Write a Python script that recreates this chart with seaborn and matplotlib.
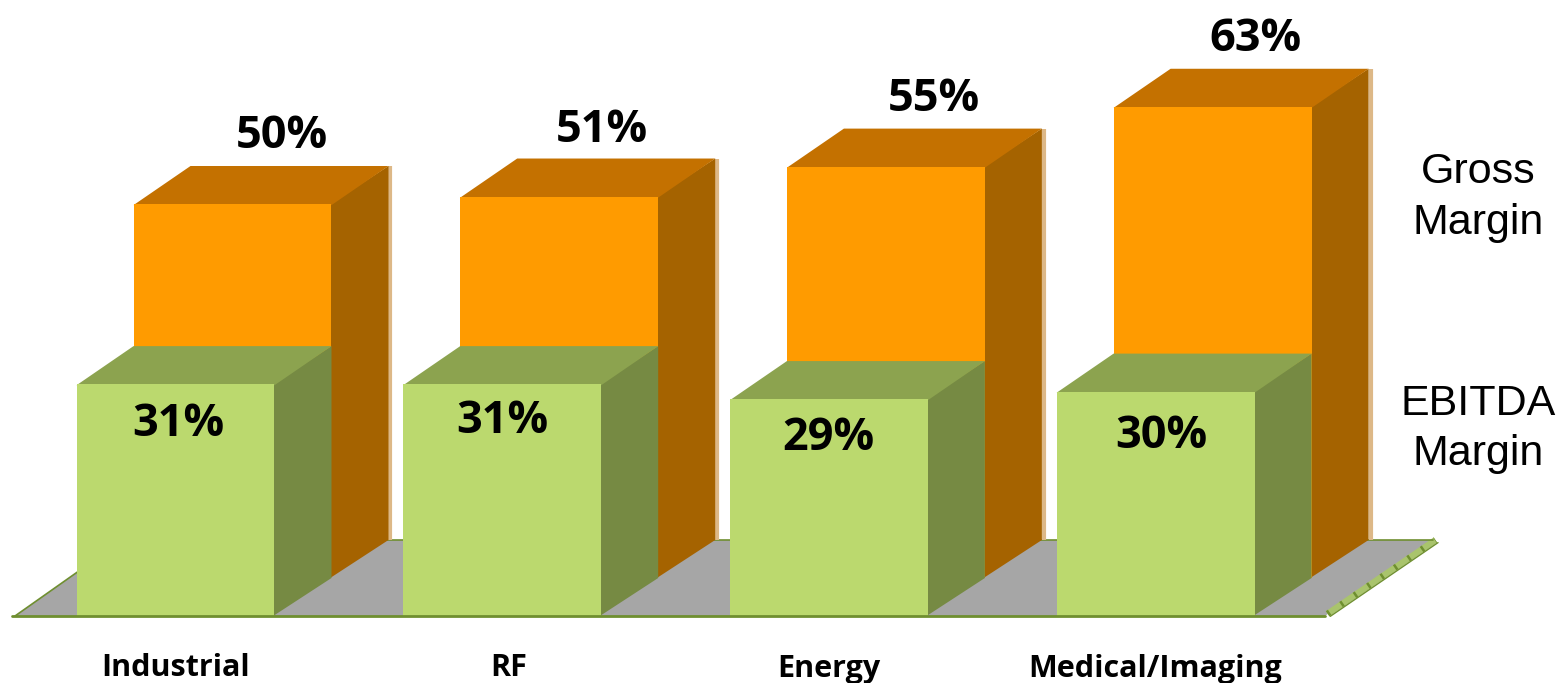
import matplotlib
matplotlib.use("Agg")
import matplotlib.pyplot as plt
from matplotlib.transforms import ScaledTranslation
import seaborn as sns

categories = ["Industrial", "RF", "Energy", "Medical/Imaging"]
gross_margin = [50, 51, 55, 63]
ebitda_margin = [31, 31, 29, 30]

# layout, in pixels of the 1562x683 figure
W, H = 1562, 683
PX_PER_CAT = 326.7
PX_PER_PCT = 7.48
FIRST_CENTER = 175.5
BASE_Y = 616
DEPTH_X_PX, DEPTH_Y_PX = 57, 38
BAR_WIDTH = 0.606
gross_label_shift = [(49, 30), (43, 28), (48, 29), (43, 29)]
ebitda_label_shift = [(3, 40), (0, 37), (0, 39), (6, 45)]
tick_label_shift = [0, 6, 0, 0]

depth_x = DEPTH_X_PX / PX_PER_CAT
depth_y = DEPTH_Y_PX / PX_PER_PCT
xlim = (-FIRST_CENTER / PX_PER_CAT, (W - FIRST_CENTER) / PX_PER_CAT)

LABEL_FONT = "Open Sans"
SIDE_FONT = "Liberation Sans"
FLOOR_EDGE = "#6F8F30"

sns.set_theme(style="white")
fig = plt.figure(figsize=(W / 100, H / 100), dpi=100)


def make_axes(shift_x, shift_y, z):
    bottom = H - BASE_Y + shift_y
    a = fig.add_axes([shift_x / W, bottom / H, 1, (H - bottom) / H], zorder=z)
    a.patch.set_alpha(0)
    return a


def finish_axes(a):
    a.set_xlim(xlim)
    a.set_ylim(0, a.get_position().height * H / PX_PER_PCT)
    sns.despine(ax=a, left=True, bottom=True, top=True, right=True)
    a.set_yticks([])
    a.set_xlabel("")
    a.set_ylabel("")


def draw_bars(a, values, front, top, side, edge=None):
    sns.barplot(x=categories, y=values, color=front, saturation=1,
                width=BAR_WIDTH, ax=a, linewidth=0, zorder=3)
    eps_x, eps_y = 0.004, 0.15
    for i, v in enumerate(values):
        l, r = i - BAR_WIDTH / 2, i + BAR_WIDTH / 2
        a.fill([r - eps_x, r + depth_x, r + depth_x, r - eps_x],
               [0, depth_y, v + depth_y, v],
               color=side, lw=0, zorder=2)
        a.fill([l, r, r + depth_x, l + depth_x],
               [v - eps_y, v - eps_y, v + depth_y, v + depth_y],
               color=top, lw=0, zorder=2)
        if edge:
            a.plot([r + depth_x + 0.006] * 2, [depth_y, v + depth_y],
                   color=edge, lw=3, solid_capstyle="butt", zorder=1)


# floor
ax_floor = make_axes(0, 0, 1)
floor_l = xlim[0] + 15 / PX_PER_CAT
floor_r = xlim[0] + 1325 / PX_PER_CAT
floor_dx, floor_dy = 0.33, 2 * depth_y
ax_floor.fill([floor_l, floor_r, floor_r + floor_dx, floor_l + floor_dx],
              [0, 0, floor_dy, floor_dy], color="#A6A6A6", lw=0)
strip_x = [floor_r + 0.008, floor_r + floor_dx + 0.008]
strip_y = [0.3, floor_dy]
ax_floor.plot(strip_x, strip_y, color="#A9C46C", lw=4.5,
              solid_capstyle="butt", clip_on=False)
ax_floor.plot(strip_x, strip_y, color=FLOOR_EDGE, lw=4.5, ls=(0, (0.4, 2.2)), clip_on=False)
ax_floor.plot([s + 0.008 for s in strip_x], [s - 0.35 for s in strip_y],
              color=FLOOR_EDGE, lw=1.0, clip_on=False)
ax_floor.plot([floor_l, floor_l + floor_dx], [0, floor_dy], color=FLOOR_EDGE, lw=1.2)
ax_floor.plot([floor_l + floor_dx, floor_r + floor_dx], [floor_dy, floor_dy],
              color=FLOOR_EDGE, lw=1.2)
finish_axes(ax_floor)
ax_floor.set_xticks([])

# gross margin, on the back plane
ax_back = make_axes(DEPTH_X_PX, DEPTH_Y_PX, 2)
draw_bars(ax_back, gross_margin, "#FF9B00", "#C47100", "#A56300", edge="#DDB887")
finish_axes(ax_back)
ax_back.set_xticks([])
for i, v in enumerate(gross_margin):
    sx, sy = gross_label_shift[i]
    ax_back.annotate(f"{v}%", (i, v + depth_y), xytext=(sx * 0.72, sy * 0.72),
                     textcoords="offset points", ha="center", va="center",
                     fontsize=32.5, fontweight="bold", family=LABEL_FONT,
                     color="black", annotation_clip=False, zorder=6)

# EBITDA margin, on the front plane
ax_front = make_axes(0, 0, 3)
draw_bars(ax_front, ebitda_margin, "#BBD96E", "#8CA34F", "#768A43")
finish_axes(ax_front)
ax_front.plot([floor_l - 0.01, floor_r], [0, 0], color=FLOOR_EDGE, lw=2,
              clip_on=False, zorder=5)
ax_front.set_xlim(xlim)
for i, v in enumerate(ebitda_margin):
    sx, sy = ebitda_label_shift[i]
    ax_front.annotate(f"{v}%", (i, v), xytext=(sx * 0.72, -sy * 0.72),
                      textcoords="offset points", ha="center", va="center",
                      fontsize=32.5, fontweight="bold", family=LABEL_FONT,
                      color="black", zorder=6)

ax_front.set_xticks(range(len(categories)))
ax_front.set_xticklabels(categories, fontsize=22, fontweight="bold",
                         family=LABEL_FONT, color="black")
ax_front.tick_params(axis="x", length=0, pad=27)
for lab, shift in zip(ax_front.get_xticklabels(), tick_label_shift):
    lab.set_transform(lab.get_transform()
                      + ScaledTranslation(shift / 100, 0, fig.dpi_scale_trans))

# series names at the right
fig.text(1478 / W, 1 - 197.5 / H, "Gross\nMargin", ha="center", va="center",
         fontsize=31, family=SIDE_FONT, color="black", linespacing=1.35)
fig.text(1478 / W, 1 - 429 / H, "EBITDA\nMargin", ha="center", va="center",
         fontsize=31, family=SIDE_FONT, color="black", linespacing=1.35)

fig.savefig("out.png", dpi=100)
